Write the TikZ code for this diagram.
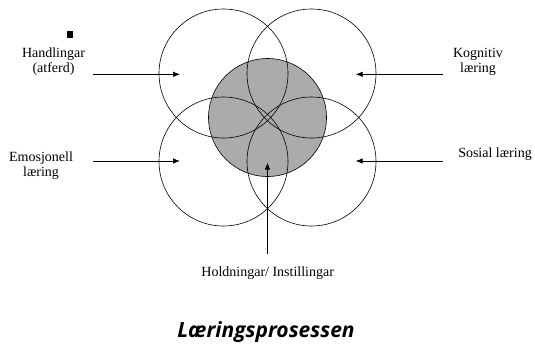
\documentclass[tikz,border=0pt]{standalone}
\usepackage{fontspec}
\setmainfont{Liberation Serif}
\newfontfamily\titlefont{Open Sans}
\usetikzlibrary{arrows.meta}
\tikzset{
  lbl/.style={anchor=base, inner sep=0pt, font=\fontsize{14}{16}\selectfont},
  ring/.style={circle, draw, line width=0.6pt, inner sep=0pt, minimum size=129pt},
  feed/.style={line width=0.7pt, -{Latex[length=7pt,width=5.5pt]}}
}

\begin{document}
\begin{tikzpicture}[x=1pt,y=-1pt]
\useasboundingbox (0,0) rectangle (535,343);
% shaded core first, rings on top
\node[circle, draw, line width=0.6pt, fill=black!33, inner sep=0pt, minimum size=118pt] (core) at (267.5,117.5) {};
\node[ring] (tl) at (223.5,73.5) {};
\node[ring] (tr) at (311.5,73.5) {};
\node[ring] (bl) at (223.5,161.5) {};
\node[ring] (br) at (311.5,161.5) {};
\node[fill, inner sep=0pt, minimum size=6.5pt] (bullet) at (70,34.7) {};
% labels
\node[lbl] (hand) at (53.5,57.3) {Handlingar};
\node[lbl] (atf) at (53.5,72.7) {(atferd)};
\node[lbl] (kog) at (478,57.3) {Kognitiv};
\node[lbl] (kogl) at (478,72.7) {læring};
\node[lbl] (emo) at (41,161) {Emosjonell};
\node[lbl] (emol) at (41,176) {læring};
\node[lbl] (sos) at (495,157.7) {Sosial læring};
\node[lbl] (hold) at (267.7,276) {Holdningar/ Instillingar};
\node[anchor=base, inner sep=0pt, font=\titlefont\bfseries\itshape\fontsize{21}{24}\selectfont] (title) at (266,337) {Læringsprosessen};
% arrows into the rings
\coordinate (handOut) at (93.3,74.3);
\coordinate (handIn) at (180,74.3);
\coordinate (kogOut) at (442.7,74.3);
\coordinate (kogIn) at (355.7,74.3);
\coordinate (emoOut) at (93.3,161);
\coordinate (emoIn) at (180,161);
\coordinate (sosOut) at (442.7,161);
\coordinate (sosIn) at (355.7,161);
\coordinate (holdOut) at (267.5,253.7);
\coordinate (holdIn) at (267.5,162.5);
\draw[feed] (handOut) -- (handIn);
\draw[feed] (kogOut) -- (kogIn);
\draw[feed] (emoOut) -- (emoIn);
\draw[feed] (sosOut) -- (sosIn);
\draw[feed] (holdOut) -- (holdIn);
\end{tikzpicture}
\end{document}
